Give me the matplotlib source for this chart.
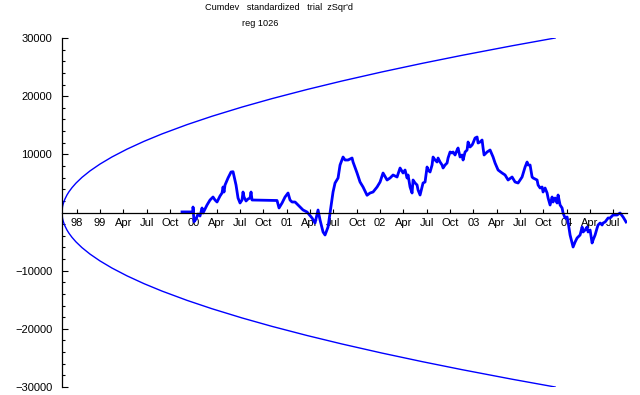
import matplotlib
matplotlib.use("Agg")
import matplotlib.pyplot as plt
from matplotlib.ticker import FixedLocator

plt.rcParams['font.family'] = ['Liberation Sans', 'DejaVu Sans']

# x in quarters since the start of the record (Aug 98)
tick_pos = [0.63 + k for k in range(24)]
tick_labels = ['98', '99', 'Apr', 'Jul', 'Oct', '00', 'Apr', 'Jul', 'Oct', '01', 'Apr', 'Jul',
               'Oct', '02', 'Apr', 'Jul', 'Oct', '03', 'Apr', 'Jul', 'Oct', '04', 'Apr', 'Jul']

# envelope (upper half, lower is mirrored)
env_x = [0, 0.021, 0.043, 0.086, 0.129, 0.214, 0.3, 0.429, 0.6, 0.857, 1.2, 1.629, 2.143,
         2.786, 3.514, 4.286, 5.357, 6.429, 7.714, 9.0, 10.5, 12.0, 13.714, 15.429, 17.143,
         19.286, 21.13]
env_y = [0, 955, 1351, 1911, 2340, 3021, 3575, 4273, 5056, 6043, 7150, 8329, 9554,
         10893, 12235, 13512, 15106, 16549, 18127, 19580, 21148, 22609, 24170, 25636, 27022,
         28662, 30000]

# cumulative deviation
cum_x = [5.143, 5.614, 5.614, 5.657, 5.743, 5.829, 5.914, 6.0, 6.043, 6.214, 6.343, 6.471,
         6.557, 6.643, 6.771, 6.857, 6.9, 6.943, 6.986, 7.114, 7.243, 7.329, 7.371, 7.457,
         7.543, 7.629, 7.714, 7.757, 7.8, 7.886, 7.971, 8.057, 8.1, 8.143, 9.214, 9.3,
         9.429, 9.557, 9.686, 9.771, 9.857, 9.986, 10.2, 10.329, 10.5, 10.714, 10.843,
         10.971, 11.057, 11.186, 11.271, 11.4, 11.486, 11.614, 11.7, 11.829, 11.914, 12.043,
         12.129, 12.257, 12.429, 12.471, 12.643, 12.771, 12.9, 13.071, 13.2, 13.329, 13.5,
         13.629, 13.757, 13.929, 14.057, 14.186, 14.357, 14.486, 14.614,
         14.7, 14.786, 14.829, 14.914, 15.0, 15.043, 15.129, 15.214, 15.257, 15.343, 15.429,
         15.471, 15.557, 15.643, 15.686, 15.771, 15.857, 15.9, 15.986, 16.071, 16.114, 16.2,
         16.286, 16.329, 16.414, 16.5, 16.543, 16.629, 16.714, 16.757, 16.843, 16.929, 16.971,
         17.057, 17.143, 17.186, 17.271, 17.357, 17.4, 17.486, 17.571, 17.614, 17.7, 17.786,
         17.829, 17.914, 18.0, 18.043, 18.086,
         18.214, 18.343, 18.471, 18.557, 18.686, 18.857,
         18.986, 19.114, 19.286, 19.414, 19.543, 19.714, 19.843, 19.929, 19.971,
         20.057, 20.143, 20.186, 20.357, 20.4, 20.486, 20.571, 20.614, 20.7, 20.786, 20.829,
         20.914, 21.0, 21.043, 21.129, 21.214, 21.257, 21.343, 21.429, 21.471, 21.557, 21.643,
         21.686, 21.771, 21.857, 21.9, 21.986, 22.071, 22.114, 22.2, 22.286, 22.329, 22.414,
         22.5, 22.543, 22.629, 22.714, 22.757, 22.843, 22.929, 22.971, 23.057, 23.143, 23.186,
         23.271, 23.4,
         23.486, 23.614, 23.786, 23.914, 24.043, 24.171]
cum_y = [100, 100, 945, -1582, -1117, -258, -602, 774, -86, 1289, 2149, 2664,
         2149, 1805, 2836, 3352, 4383, 3524, 4727, 5931, 6960, 7014, 6274, 4727,
         2492, 1633, 2149, 3524, 2664, 1977, 2321, 2492, 3524, 2149, 2063, 774,
         1633, 2664, 3352, 2149, 1805, 1805, 945, 430, 86, -945, -1805,
         430, -1289, -3352, -3868, -2492, -86, 3524, 5071, 5931, 8165, 9540,
         9024, 9024, 9368, 8680, 6790, 5243, 4383, 2965, 3352, 3524, 4383,
         5243, 6790, 5587, 5931, 6446, 6102, 7650, 6790,
         7306, 5931, 6446, 4383, 3352, 5587, 5071, 4727, 3868, 3008, 4383,
         5071, 5243, 7821, 7306, 6962, 8165, 9540, 9024, 8681, 9368, 8681,
         8165, 7650, 8165, 8509, 9368, 10400, 10228, 10400, 9884, 10744, 11088,
         9540, 9884, 9024, 10400, 10744, 12119, 11259, 11603, 11947, 12807, 12979,
         11947, 12119, 12463, 11088, 9884,
         10400, 10744, 9540, 8509, 7306, 6790,
         6446, 5587, 6102, 5243, 5071, 6102, 7821, 8680, 8165,
         8165, 6102, 5931, 5587, 4727, 4211, 4383, 3524, 4211, 3352, 2492,
         1289, 2664, 1805, 2492, 1633, 3008, 1289, 774, -86, -945, -774,
         -1633, -3868, -5243, -5931, -5071, -4383, -4212, -3868, -2492, -3352, -3008,
         -2492, -3352, -3008, -5243, -4727, -3868, -2664, -2149, -1805, -2149, -1805,
         -1633, -945,
         -945, -430, -430, -86, -774, -1633]

fig = plt.figure(figsize=(6.4, 3.95), dpi=100)
ax = fig.add_axes([62 / 640, 8 / 395, 565 / 640, 349 / 395])

ax.plot(env_x, env_y, color='#0000ff', lw=1.0)
ax.plot(env_x, [-v for v in env_y], color='#0000ff', lw=1.0)
ax.plot(cum_x, cum_y, color='#0000ff', lw=2.0)

ax.set_xlim(0, 24.21)
ax.set_ylim(-30000, 30000)

ax.spines['top'].set_visible(False)
ax.spines['right'].set_visible(False)
ax.spines['bottom'].set_position(('data', 0))
ax.spines['bottom'].set_linewidth(0.9)
ax.spines['left'].set_linewidth(0.9)

ax.set_xticks(tick_pos)
ax.set_xticklabels(tick_labels)
ax.tick_params(axis='x', direction='in', length=3, width=0.8, pad=4, labelsize=8)

yt = [-30000, -20000, -10000, 10000, 20000, 30000]
ax.set_yticks(yt)
ax.set_yticklabels([str(v).replace('-', '\u2212') for v in yt])
ax.yaxis.set_minor_locator(FixedLocator([v for v in range(-28000, 30000, 2000) if v % 10000 != 0]))
ax.tick_params(axis='y', which='major', direction='in', length=4.5, width=0.8, pad=7, labelsize=8)
ax.tick_params(axis='y', which='minor', direction='in', length=2.5, width=0.8)

fig.text(279 / 640, 1 - 8 / 395, "Cumdev   standardized   trial  zSqr'd", ha='center', va='center', fontsize=6.6)
fig.text(260 / 640, 1 - 24 / 395, "reg 1026", ha='center', va='center', fontsize=6.6)

fig.savefig('out.png', dpi=100)
